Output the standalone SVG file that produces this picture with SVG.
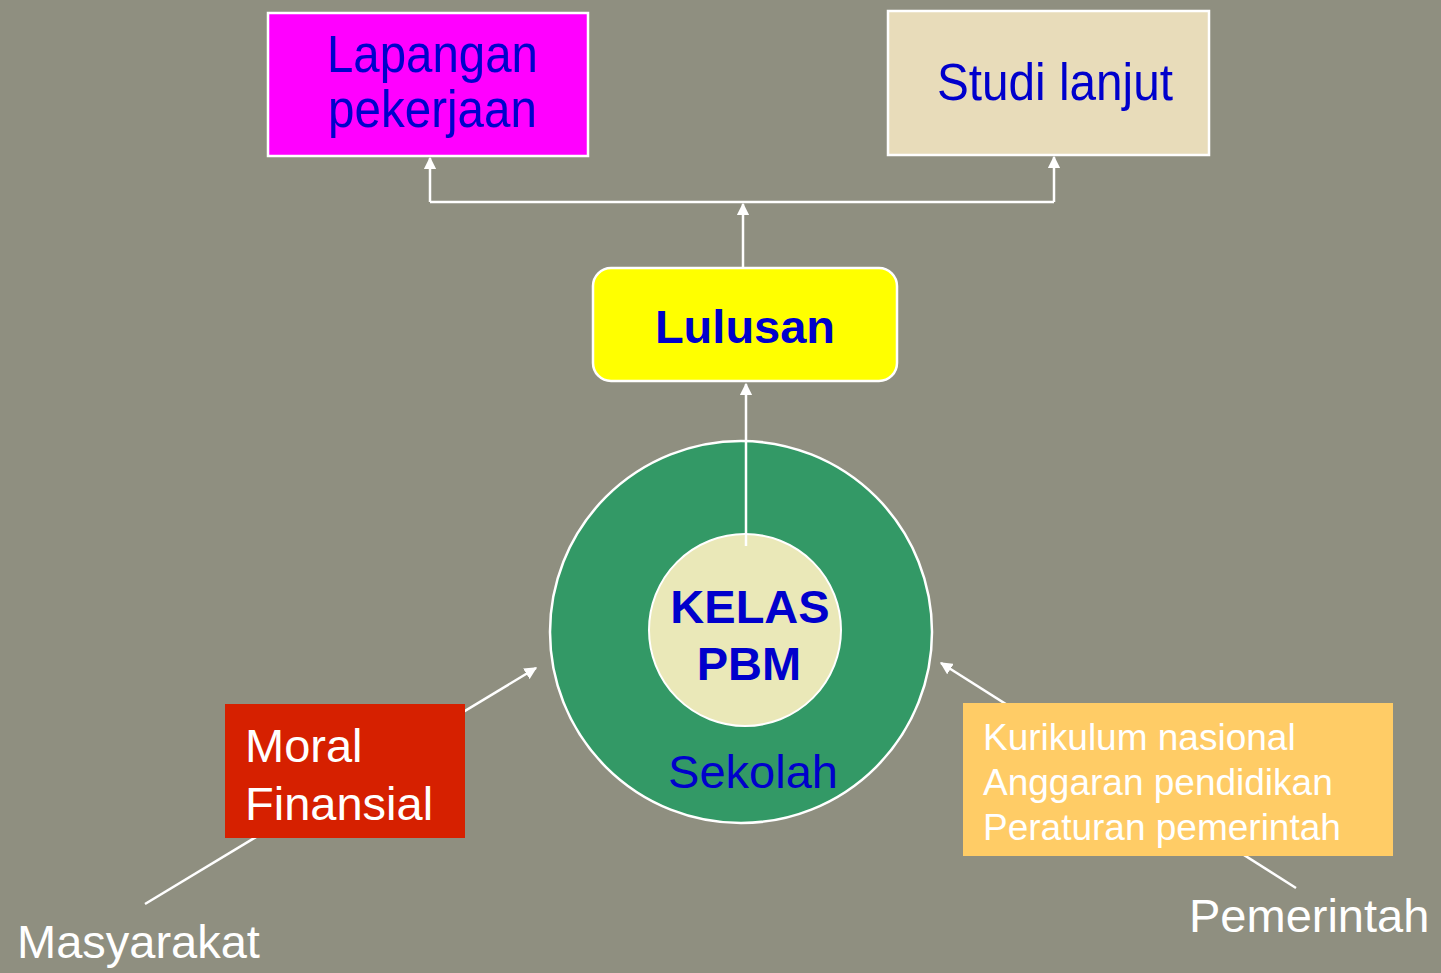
<svg xmlns="http://www.w3.org/2000/svg" width="1441" height="973" viewBox="0 0 1441 973">
<defs>
<marker id="ah" viewBox="0 0 10 10" refX="9" refY="5" markerWidth="5" markerHeight="5" markerUnits="strokeWidth" orient="auto">
<path d="M0,0 L10,5 L0,10 z" fill="#FFFFFF"/>
</marker>
<style>
.b{fill:#0000CC;font-family:"Liberation Sans",Arial,sans-serif}
.w{fill:#FFFFFF;font-family:"Liberation Sans",Arial,sans-serif}
.ln{stroke:#FFFFFF;stroke-width:2.5;fill:none}
</style>
</defs>
<rect width="1441" height="973" fill="#8F8F80"/>
<g id="connectors">
<line class="ln" x1="145" y1="904" x2="536" y2="668" marker-end="url(#ah)"/>
<line class="ln" x1="1296" y1="888" x2="941" y2="663" marker-end="url(#ah)"/>
<polyline class="ln" points="430,202 1054,202"/>
<line class="ln" x1="430" y1="202" x2="430" y2="158" marker-end="url(#ah)"/>
<line class="ln" x1="1054" y1="202" x2="1054" y2="157" marker-end="url(#ah)"/>
<line class="ln" x1="743" y1="267" x2="743" y2="204" marker-end="url(#ah)"/>
</g>
<g id="lapangan">
<rect x="268" y="13" width="320" height="143" fill="#FF00FF" stroke="#FFFFFF" stroke-width="2.5"/>
<text class="b" x="327" y="72" font-size="51" textLength="211" lengthAdjust="spacingAndGlyphs">Lapangan</text>
<text class="b" x="328" y="127" font-size="51" textLength="209" lengthAdjust="spacingAndGlyphs">pekerjaan</text>
</g>
<g id="studi">
<rect x="888" y="11" width="321" height="144" fill="#E8DCBA" stroke="#FFFFFF" stroke-width="2.5"/>
<text class="b" x="937" y="100" font-size="51" textLength="236" lengthAdjust="spacingAndGlyphs">Studi lanjut</text>
</g>
<g id="sekolah">
<circle cx="741" cy="632" r="191" fill="#339966" stroke="#FFFFFF" stroke-width="2.5"/>
<text class="b" x="753" y="788" font-size="47" text-anchor="middle">Sekolah</text>
</g>
<g id="kelas">
<ellipse cx="745" cy="630" rx="96" ry="96" fill="#EAE8B8" stroke="#FFFFFF" stroke-width="2"/>
<text class="b" x="750" y="623" font-size="47" font-weight="bold" text-anchor="middle">KELAS</text>
<text class="b" x="749" y="680" font-size="47" font-weight="bold" text-anchor="middle">PBM</text>
</g>
<g id="connector-kelas-lulusan">
<line class="ln" x1="746" y1="546" x2="746" y2="384" marker-end="url(#ah)"/>
</g>
<g id="lulusan">
<rect x="593" y="268" width="304" height="113" rx="18" fill="#FFFF00" stroke="#FFFFFF" stroke-width="2.5"/>
<text class="b" x="745" y="343" font-size="47" font-weight="bold" text-anchor="middle">Lulusan</text>
</g>
<g id="moral">
<rect x="225" y="704" width="240" height="134" fill="#D62000"/>
<text class="w" x="245" y="762" font-size="47">Moral</text>
<text class="w" x="245" y="820" font-size="47">Finansial</text>
</g>
<g id="pemerintah-box">
<rect x="963" y="703" width="430" height="153" fill="#FFCC66"/>
<text class="w" x="983" y="750" font-size="37">Kurikulum nasional</text>
<text class="w" x="983" y="795" font-size="37">Anggaran pendidikan</text>
<text class="w" x="983" y="840" font-size="37">Peraturan pemerintah</text>
</g>
<g id="masyarakat">
<text class="w" x="17" y="958" font-size="47">Masyarakat</text>
</g>
<g id="pemerintah">
<text class="w" x="1189" y="932" font-size="47">Pemerintah</text>
</g>
</svg>
